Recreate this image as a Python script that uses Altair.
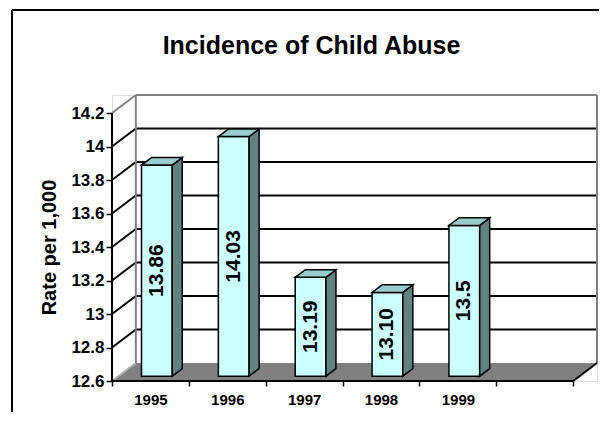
import altair as alt
import pandas as pd

# ---------------- data ----------------
years = ["1995", "1996", "1997", "1998", "1999"]
rates = [13.86, 14.03, 13.19, 13.10, 13.5]
rate_labels = ["13.86", "14.03", "13.19", "13.10", "13.5"]
y_ticks = [12.6, 12.8, 13.0, 13.2, 13.4, 13.6, 13.8, 14.0, 14.2]
n_slots = 6            # five years plus one empty category
y_min, y_max = 12.6, 14.2

# ---------------- 3-D projection settings (data units) ----------------
DX = 0.31     # depth of the box, in category slots
DY = 0.1075   # depth of the box, in rate units
F0 = 0.27     # where the bar front sits along the depth
BD = 0.42     # bar depth as a share of the box depth
BW = 0.40     # bar width, in category slots
SLOT_PX = 76.83
VAL_PX = 167.5

W = round((n_slots + DX) * SLOT_PX)
H = round((y_max - y_min + DY) * VAL_PX)

FONT = "Liberation Sans"
FRONT = "#CCFFFF"
TOPC = "#99CCCC"
SIDE = "#628282"
FLOOR = "#808080"
WALL = "#808080"

# ---------------- derived tables ----------------
front_rows, side_rows, top_rows = [], [], []
for i, (yr, r, lab) in enumerate(zip(years, rates, rate_labels)):
    x0 = i + 0.5 - BW / 2 + F0 * DX
    x1 = x0 + BW
    yb = y_min + F0 * DY
    yt = r + F0 * DY
    front_rows.append(dict(year=yr, x0=x0, x1=x1, yb=yb, yt=yt,
                           xc=(x0 + x1) / 2, ym=(yb + yt) / 2, label=lab))
    side_rows.append(dict(year=yr, x=x1, top=yt, bot=yb))
    side_rows.append(dict(year=yr, x=x1 + BD * DX, top=yt + BD * DY, bot=yb + BD * DY))
    top_rows.append(dict(year=yr, y=yt, xa=x0, xb=x1))
    top_rows.append(dict(year=yr, y=yt + BD * DY, xa=x0 + BD * DX, xb=x1 + BD * DX))
front_df = pd.DataFrame(front_rows)
side_df = pd.DataFrame(side_rows)
top_df = pd.DataFrame(top_rows)

floor_df = pd.DataFrame([
    dict(y=y_min, xa=0, xb=n_slots),
    dict(y=y_min + DY, xa=DX, xb=n_slots + DX),
])

inner = y_ticks[1:-1]
grid_back = pd.DataFrame(dict(x=[DX] * len(inner), x2=[n_slots + DX] * len(inner),
                              y=[t + DY for t in inner]))
grid_side = pd.DataFrame(dict(x=[0] * len(inner), x2=[DX] * len(inner),
                              y=inner, y2=[t + DY for t in inner]))

wall_df = pd.DataFrame([
    dict(x=DX, x2=n_slots + DX, y=y_max + DY, y2=y_max + DY, c=WALL),
    dict(x=DX, x2=DX, y=y_min + DY, y2=y_max + DY, c=WALL),
    dict(x=n_slots + DX, x2=n_slots + DX, y=y_min + DY, y2=y_max + DY, c=WALL),
    dict(x=0, x2=DX, y=y_max, y2=y_max + DY, c=WALL),
    dict(x=0, x2=DX, y=y_min, y2=y_min + DY, c="#B0B0B0"),
    dict(x=0, x2=n_slots, y=y_min, y2=y_min, c="#000000"),
    dict(x=0, x2=0, y=y_min, y2=y_max, c="#000000"),
    dict(x=n_slots, x2=n_slots + DX, y=y_min, y2=y_min + DY, c="#000000"),
])

xs = alt.Scale(domain=[0, n_slots + DX], nice=False, zero=False)
ys = alt.Scale(domain=[y_min, y_max + DY], nice=False, zero=False)

year_list = "[" + ",".join("'" + y + "'" for y in years) + ",'']"

x_axis = alt.Axis(
    values=[k / 2 for k in range(2 * n_slots + 1)],
    labelExpr=f"datum.value % 1 === 0 ? '' : {year_list}[floor(datum.value)]",
    tickOpacity={"condition": {"test": "datum.value % 1 === 0", "value": 1}, "value": 0},
    domain=False, grid=False, title=None,
    tickSize=5, tickWidth=1.5, tickColor="black",
    labelFont=FONT, labelFontSize=15, labelFontWeight="bold", labelColor="black",
    labelPadding=6, labelAngle=0,
)
y_axis = alt.Axis(
    values=y_ticks, format="~g", domain=False, grid=False,
    tickSize=6, tickWidth=1.5, tickColor="black",
    labelFont=FONT, labelFontSize=17, labelFontWeight="bold", labelColor="black",
    labelPadding=2,
    title="Rate per 1,000", titleFont=FONT, titleFontSize=20, titleFontWeight="bold",
    titleColor="black", titleX=-57, titleY=(y_max + DY - (y_min + y_max) / 2) * VAL_PX,
    titleBaseline="alphabetic", titleAngle=270, titleAlign="center",
)


def X(field):
    return alt.X(field, scale=xs, axis=x_axis)


def Y(field):
    return alt.Y(field, scale=ys, axis=y_axis)


floor = alt.Chart(floor_df).mark_area(orient="horizontal", color=FLOOR).encode(
    y=Y("y:Q"), x=X("xa:Q"), x2="xb:Q",
)
back = alt.Chart(grid_back).mark_rule(color="black", strokeWidth=2).encode(
    x=X("x:Q"), x2="x2:Q", y=Y("y:Q"),
)
side_grid = alt.Chart(grid_side).mark_rule(color="black", strokeWidth=2).encode(
    x=X("x:Q"), x2="x2:Q", y=Y("y:Q"), y2="y2:Q",
)
walls = alt.Chart(wall_df).mark_rule(strokeWidth=2).encode(
    x=X("x:Q"), x2="x2:Q", y=Y("y:Q"), y2="y2:Q",
    color=alt.Color("c:N", scale=None, legend=None),
)
bar_front = alt.Chart(front_df).mark_rect(fill=FRONT, stroke="black", strokeWidth=1.5).encode(
    x=X("x0:Q"), x2="x1:Q", y=Y("yb:Q"), y2="yt:Q",
)
bar_side = alt.Chart(side_df).mark_area(orient="vertical", fill=SIDE, stroke="black",
                                        strokeWidth=1.5, strokeJoin="miter").encode(
    x=X("x:Q"), y=Y("top:Q"), y2="bot:Q", detail="year:N",
)
bar_top = alt.Chart(top_df).mark_area(orient="horizontal", fill=TOPC, stroke="black",
                                      strokeWidth=1.5, strokeJoin="miter").encode(
    y=Y("y:Q"), x=X("xa:Q"), x2="xb:Q", detail="year:N",
)
bar_text = alt.Chart(front_df).mark_text(
    angle=270, font=FONT, fontSize=21, fontWeight="bold", color="black",
    align="center", baseline="middle",
).encode(
    x=X("xc:Q"), y=Y("ym:Q"), text="label:N",
)

frame = alt.Chart(pd.DataFrame({"k": [0]})).mark_rule(color="black", strokeWidth=2).encode(
    x=alt.value(-100), y=alt.value(-85), x2=alt.value(600), y2=alt.value(-85),
)
frame_left = alt.Chart(pd.DataFrame({"k": [0]})).mark_rule(color="black", strokeWidth=2).encode(
    x=alt.value(-100), y=alt.value(-85), x2=alt.value(-100), y2=alt.value(400),
)

chart = alt.layer(
    floor, back, side_grid, walls, bar_front, bar_side, bar_top, bar_text, frame, frame_left
).properties(
    width=W, height=H,
    title=alt.TitleParams("Incidence of Child Abuse", font=FONT, fontSize=25,
                          fontWeight="bold", color="black", anchor="middle",
                          baseline="alphabetic", dx=-43, offset=-70),
    autosize=alt.AutoSizeParams(type="none"),
    padding={"left": 104, "top": 87, "right": 2, "bottom": 31},
).configure_view(stroke=None).configure(background="white")

chart.save("out.html", embed_options={"renderer": "svg", "actions": False})
